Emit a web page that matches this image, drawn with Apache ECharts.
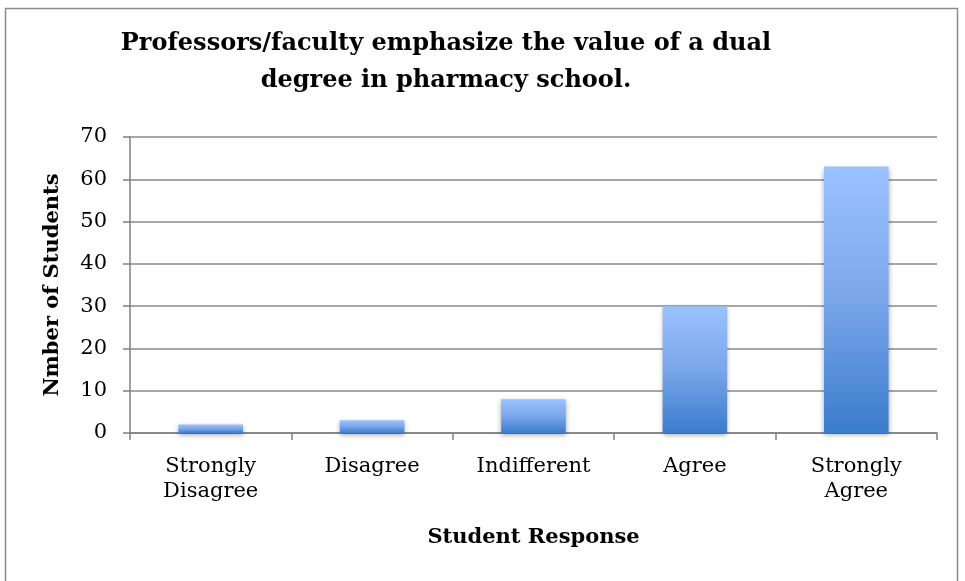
<!DOCTYPE html>
<html>
<head>
<meta charset="utf-8">
<script src="https://cdn.jsdelivr.net/npm/echarts@6/dist/echarts.min.js"></script>
<style>
  html, body { margin: 0; padding: 0; background: #fff; }
  #chart { width: 965px; height: 581px; }
</style>
</head>
<body>
<div id="chart"></div>
<script>
// data
const categories = ['Strongly\nDisagree', 'Disagree', 'Indifferent', 'Agree', 'Strongly\nAgree'];
const students = [2, 3, 8, 30, 63];
const yTicks = [0, 10, 20, 30, 40, 50, 60, 70];

const serif = '"DejaVu Serif", "Liberation Serif", serif';

let chart = echarts.init(document.getElementById('chart'));
let option = {
  backgroundColor: '#fff',
  animation: false,
  graphic: [{
    type: 'rect',
    shape: {x: 5.5, y: 8.5, width: 952, height: 580},
    style: {fill: 'none', stroke: '#8c8c8c', lineWidth: 1.5}
  }],
  title: {
    text: 'Professors/faculty emphasize the value of a dual\ndegree in pharmacy school.',
    left: 441,
    top: 20,
    textAlign: 'center',
    textStyle: {
      fontFamily: serif,
      fontSize: 24,
      fontWeight: 'bold',
      color: '#000',
      lineHeight: 37,
      align: 'center'
    }
  },
  grid: {left: 130, right: 28, top: 137, bottom: 148, containLabel: false},
  xAxis: {
    type: 'category',
    data: categories,
    name: 'Student Response',
    nameLocation: 'middle',
    nameGap: 94,
    nameTextStyle: {fontFamily: serif, fontSize: 21, fontWeight: 'bold', color: '#000'},
    axisLine: {lineStyle: {color: '#808080', width: 1.5}},
    axisTick: {show: true, alignWithLabel: false, length: 7, lineStyle: {color: '#808080', width: 1.5}},
    axisLabel: {fontFamily: serif, fontSize: 21, color: '#000', margin: 21, lineHeight: 25}
  },
  yAxis: {
    type: 'value',
    min: 0,
    max: 70,
    interval: 10,
    name: 'Nmber of Students',
    nameLocation: 'middle',
    nameGap: 67,
    nameRotate: 90,
    nameTextStyle: {fontFamily: serif, fontSize: 21, fontWeight: 'bold', color: '#000'},
    axisLine: {show: true, lineStyle: {color: '#808080', width: 1.5}},
    axisTick: {show: true, length: 7, lineStyle: {color: '#808080', width: 1.5}},
    axisLabel: {
      fontFamily: serif, fontSize: 21, color: '#000', margin: 23,
      formatter: v => yTicks.includes(v) ? String(v) : ''
    },
    splitLine: {lineStyle: {color: '#8a8a8a', width: 1.5}}
  },
  series: [{
    type: 'bar',
    data: students,
    barWidth: '40%',
    itemStyle: {
      color: new echarts.graphic.LinearGradient(0, 0, 0, 1, [
        {offset: 0, color: '#9bc2ff'},
        {offset: 0.5, color: '#7aa6ea'},
        {offset: 1, color: '#3a7ccc'}
      ]),
      shadowColor: 'rgba(0,0,0,0.35)',
      shadowBlur: 5,
      shadowOffsetY: 2
    }
  }]
};
chart.setOption(option);
</script>
</body>
</html>
